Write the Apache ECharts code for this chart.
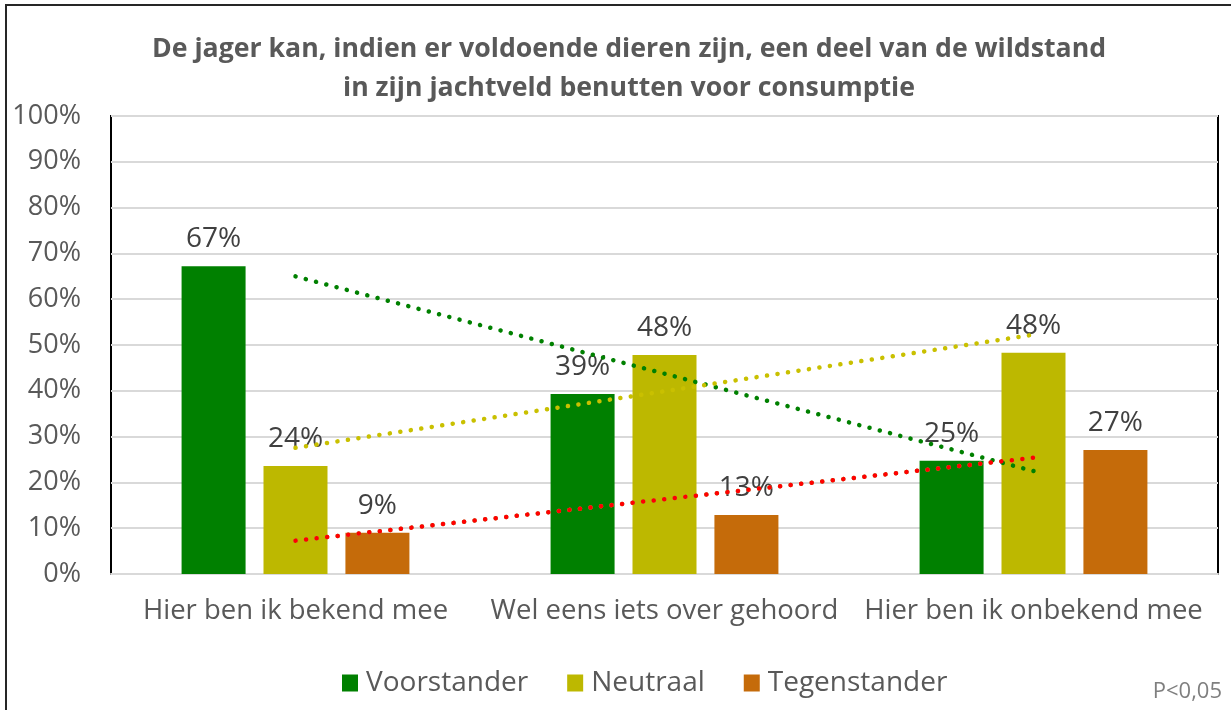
<!DOCTYPE html>
<html>
<head>
<meta charset="utf-8">
<script src="https://cdn.jsdelivr.net/npm/echarts@6/dist/echarts.min.js"></script>
<style>
  html, body { margin: 0; padding: 0; background: #fff; }
  #diogram { width: 1231px; height: 710px; }
</style>
</head>
<body>
<div id="diogram"></div>
<script>
let categories = ['Hier ben ik bekend mee', 'Wel eens iets over gehoord', 'Hier ben ik onbekend mee'];
let seriesNames = ['Voorstander', 'Neutraal', 'Tegenstander'];
let voorstander = [67.2, 39.3, 24.7];
let neutraal = [23.6, 47.8, 48.3];
let tegenstander = [9.0, 12.9, 27.1];
let barColors = ['#008000', '#BDB800', '#C56B0A'];
let trendColors = ['#008000', '#C9C000', '#FF0000'];

let font = '"Open Sans", sans-serif';

// linear trendline (least squares) over the category index
function trend(vals) {
    let n = vals.length;
    let mx = (n - 1) / 2;
    let my = vals.reduce((a, b) => a + b, 0) / n;
    let num = 0, den = 0;
    vals.forEach((v, i) => { num += (i - mx) * (v - my); den += (i - mx) * (i - mx); });
    let b = num / den;
    return vals.map((v, i) => my + b * (i - mx));
}

let diogram = document.getElementById('diogram');
let myDiogram = echarts.init(diogram);

let allData = [voorstander, neutraal, tegenstander];

let barSeries = allData.map((d, i) => ({
    name: seriesNames[i],
    type: 'bar',
    data: d,
    barWidth: 64,
    barGap: '28%',
    itemStyle: { color: barColors[i] },
    label: {
        show: true,
        position: 'top',
        distance: 13,
        fontFamily: font,
        fontSize: 28,
        color: '#404040',
        formatter: p => Math.round(p.value) + '%'
    },
    z: 2
}));

function trendSeries(d, color, z) {
    return {
        name: 'trend',
        type: 'line',
        data: trend(d),
        showSymbol: false,
        symbol: 'none',
        silent: true,
        lineStyle: { color: color, width: 4.5, type: [0.1, 10.5], cap: 'round' },
        z: z
    };
}

let option = {
    animation: false,
    title: {
        text: 'De jager kan, indien er voldoende dieren zijn, een deel van de wildstand\nin zijn jachtveld benutten voor consumptie',
        left: 624,
        textAlign: 'center',
        top: 25,
        textStyle: {
            fontFamily: font,
            fontSize: 26.7,
            fontWeight: 'bold',
            color: '#595959',
            lineHeight: 39
        }
    },
    legend: {
        data: seriesNames,
        bottom: 8,
        left: 337,
        itemWidth: 16,
        itemHeight: 17,
        itemGap: 39,
        icon: 'rect',
        textStyle: { fontFamily: font, fontSize: 28, color: '#595959', padding: [0, 0, 0, 3] }
    },
    grid: {
        left: 111,
        right: 13,
        top: 116,
        bottom: 136,
        show: true,
        borderColor: '#000',
        borderWidth: 2
    },
    xAxis: {
        type: 'category',
        data: categories,
        axisTick: { show: false },
        axisLine: { lineStyle: { color: '#D9D9D9', width: 2 } },
        axisLabel: { interval: 0, fontFamily: font, fontSize: 27.5, color: '#595959', margin: 23 }
    },
    yAxis: {
        type: 'value',
        min: 0,
        max: 100,
        interval: 10,
        axisLine: { show: false },
        axisTick: { show: false },
        axisLabel: { fontFamily: font, fontSize: 27, color: '#595959', margin: 30, formatter: '{value}%' },
        splitLine: { lineStyle: { color: '#D9D9D9', width: 2 } }
    },
    series: barSeries.concat([
        trendSeries(tegenstander, '#9BBB59', 3),
        trendSeries(voorstander, trendColors[0], 4),
        trendSeries(neutraal, trendColors[1], 4),
        trendSeries(tegenstander, trendColors[2], 5)
    ]),
    graphic: [
        {
            type: 'rect',
            shape: { x: 6, y: 5, width: 1250, height: 730 },
            style: { fill: 'none', stroke: '#262626', lineWidth: 2 },
            silent: true
        },
        {
            type: 'text',
            right: 9,
            bottom: 7,
            style: { text: 'P<0,05', fontFamily: font, fontSize: 22, fill: '#7F7F7F' }
        }
    ]
};

myDiogram.setOption(option);
</script>
</body>
</html>
